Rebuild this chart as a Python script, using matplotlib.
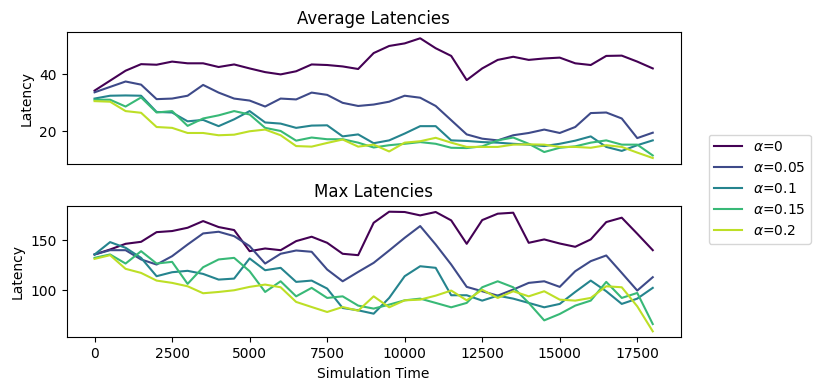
import numpy as np
import matplotlib
matplotlib.use("Agg")
import matplotlib.pyplot as plt

# simulation time grid
sim_time = [0, 500, 1000, 1500, 2000, 2500, 3000, 3500, 4000, 4500, 5000, 5500,
            6000, 6500, 7000, 7500, 8000, 8500, 9000, 9500, 10000, 10500, 11000,
            11500, 12000, 12500, 13000, 13500, 14000, 14500, 15000, 15500, 16000,
            16500, 17000, 17500, 18000]

alphas = ["0", "0.05", "0.1", "0.15", "0.2"]

# === average latencies ===
avg_a0 = [34.3, 37.8, 41.3, 43.6, 43.4, 44.5, 43.9, 43.9, 42.6, 43.5, 42.1, 40.8,
          40.0, 41.1, 43.5, 43.3, 42.8, 41.9, 47.5, 50.0, 50.9, 52.7, 49.2, 46.5,
          38.0, 42.1, 45.1, 46.2, 45.1, 45.6, 45.9, 43.9, 43.3, 46.5, 46.6, 44.5, 42.1]
avg_a005 = [33.7, 35.6, 37.5, 36.4, 31.3, 31.5, 32.5, 36.3, 33.6, 31.5, 30.8, 28.7,
            31.5, 31.2, 33.6, 32.8, 30.0, 28.9, 29.4, 30.4, 32.5, 31.8, 28.9, 23.9,
            18.9, 17.4, 16.8, 18.6, 19.4, 20.6, 19.4, 21.5, 26.4, 26.6, 24.5, 17.6, 19.5]
avg_a01 = [31.5, 32.5, 32.6, 32.5, 26.8, 26.6, 23.5, 24.0, 21.8, 24.2, 27.1, 23.1,
           22.7, 21.2, 22.0, 22.1, 18.2, 18.9, 15.8, 16.8, 19.2, 21.8, 21.8, 16.8,
           16.6, 16.2, 16.0, 15.6, 15.3, 14.8, 15.6, 16.7, 18.2, 14.5, 13.1, 15.1, 16.8]
avg_a015 = [31.1, 31.1, 28.7, 31.9, 26.6, 27.1, 21.9, 24.5, 25.6, 27.1, 25.9, 21.2,
            20.1, 16.7, 17.8, 17.2, 17.2, 16.0, 14.3, 15.1, 15.6, 16.2, 15.6, 14.2,
            14.1, 14.7, 16.8, 17.8, 15.6, 12.7, 14.2, 14.7, 16.0, 16.8, 15.3, 15.3, 11.5]
avg_a02 = [30.6, 30.4, 27.1, 26.5, 21.5, 21.2, 19.4, 19.4, 18.6, 18.8, 20.0, 20.6,
           18.6, 14.8, 14.6, 15.9, 17.1, 14.6, 15.3, 12.9, 16.0, 16.5, 17.7, 16.0,
           14.5, 14.5, 14.5, 15.3, 15.4, 15.3, 14.5, 14.5, 14.2, 15.1, 14.5, 12.5, 10.6]

# === max latencies ===
max_a0 = [135.9, 140.9, 146.6, 148.6, 158.3, 159.4, 162.7, 169.4, 163.4, 160.4, 139.2, 141.9,
          140.2, 149.3, 153.7, 147.6, 136.6, 135.2, 167.7, 178.8, 178.5, 175.1, 178.5, 170.1,
          146.6, 170.4, 176.8, 177.8, 147.6, 151.0, 146.9, 143.6, 151.0, 168.4, 172.8, 156.7, 140.2]
max_a005 = [135.9, 140.2, 140.2, 130.9, 125.8, 134.2, 145.9, 157.0, 158.7, 154.3, 144.3, 126.8,
            136.6, 139.9, 138.6, 120.8, 109.0, 118.4, 127.5, 139.9, 152.6, 164.4, 145.9, 125.8,
            103.4, 99.0, 94.6, 100.7, 107.4, 109.0, 103.4, 119.1, 129.2, 134.9, 117.4, 99.7, 113.1]
max_a01 = [135.9, 148.3, 142.6, 132.5, 114.1, 118.1, 119.5, 116.4, 110.7, 111.7, 131.9, 120.1,
           122.5, 108.4, 109.7, 101.7, 82.2, 79.9, 76.5, 92.3, 114.1, 124.1, 122.5, 95.0,
           95.0, 89.6, 94.6, 91.6, 87.3, 82.9, 86.3, 98.3, 109.7, 99.0, 86.3, 91.6, 102.4]
max_a015 = [132.5, 135.9, 126.8, 139.2, 126.8, 128.5, 106.4, 123.1, 130.9, 132.5, 119.1, 98.3,
            109.0, 93.9, 102.4, 92.3, 93.9, 84.6, 81.6, 85.6, 89.9, 91.6, 87.3, 82.9,
            87.3, 103.0, 109.0, 103.0, 87.3, 69.8, 76.2, 84.6, 89.6, 108.4, 92.3, 97.3, 66.1]
max_a02 = [131.5, 135.2, 121.5, 117.4, 109.7, 107.4, 104.0, 97.0, 98.3, 100.0, 103.4, 105.7,
           103.0, 88.3, 83.2, 78.2, 83.2, 79.5, 93.9, 82.9, 89.9, 90.6, 94.6, 99.7,
           89.9, 100.5, 92.3, 99.0, 93.9, 99.0, 90.6, 89.6, 92.3, 104.0, 103.0, 83.9, 58.8]

avg_series = [avg_a0, avg_a005, avg_a01, avg_a015, avg_a02]
max_series = [max_a0, max_a005, max_a01, max_a015, max_a02]
colors = plt.cm.viridis(np.linspace(0, 0.9, len(alphas)))

fig = plt.figure(figsize=(8.14, 3.9), dpi=100)
ax1 = fig.add_axes([0.0819, 0.5795, 0.7543, 0.3377])
ax2 = fig.add_axes([0.0819, 0.1351, 0.7543, 0.3374], sharex=ax1)

for a, ys, c in zip(alphas, avg_series, colors):
    ax1.plot(sim_time, ys, color=c, label=rf"$\alpha$={a}")
for a, ys, c in zip(alphas, max_series, colors):
    ax2.plot(sim_time, ys, color=c)

ax1.set_title("Average Latencies")
ax1.set_ylabel("Latency")
ax1.tick_params(axis="x", bottom=False, labelbottom=False)

ax2.set_title("Max Latencies")
ax2.set_ylabel("Latency")
ax2.set_xlabel("Simulation Time")

fig.legend(loc="center left", bbox_to_anchor=(0.862, 0.515))

fig.savefig("out.png", dpi=100)
plt.close(fig)
